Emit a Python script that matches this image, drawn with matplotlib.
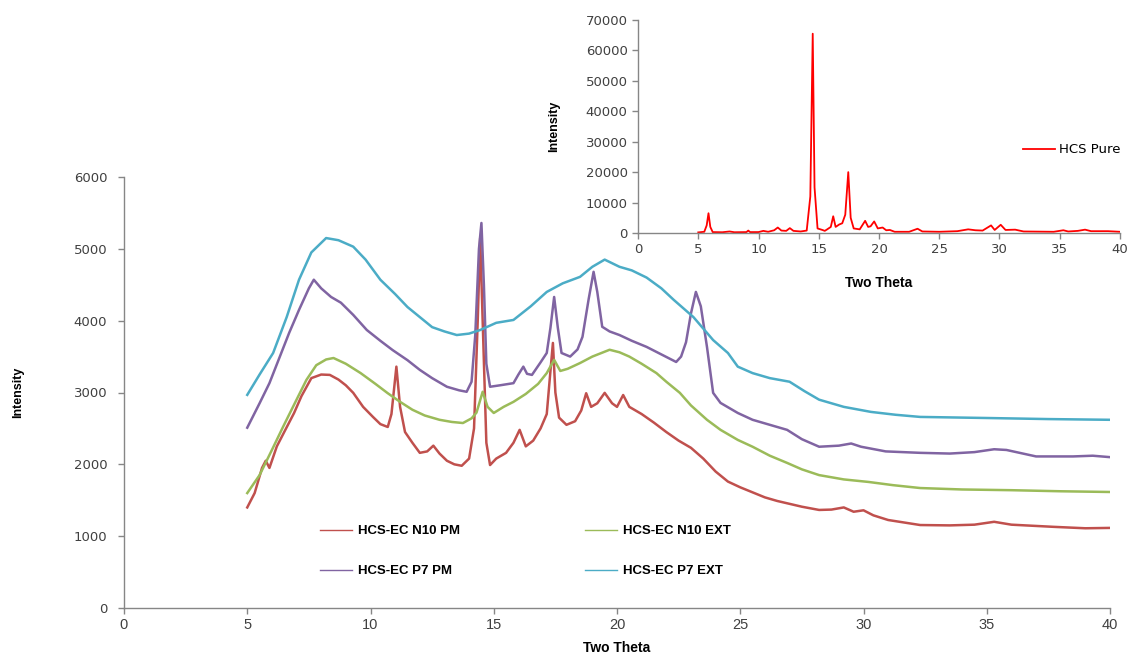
import matplotlib
matplotlib.use("Agg")
import matplotlib.pyplot as plt

# ---------------- data ----------------
two_theta_ticks = [0, 5, 10, 15, 20, 25, 30, 35, 40]
intensity_ticks = [0, 1000, 2000, 3000, 4000, 5000, 6000]
inset_intensity_ticks = [0, 10000, 20000, 30000, 40000, 50000, 60000, 70000]

n10_pm_x = [5.0, 5.3, 5.6, 5.75, 5.9, 6.2, 6.5, 6.9, 7.2, 7.6, 8.0, 8.35, 8.7, 9.0, 9.3,
            9.7, 10.1, 10.4, 10.7, 10.85, 11.05, 11.2, 11.4, 11.7, 12.0, 12.3, 12.55,
            12.8, 13.1, 13.4, 13.7, 14.0, 14.2, 14.35, 14.45, 14.55, 14.7, 14.85, 15.1,
            15.5, 15.8, 16.05, 16.3, 16.6, 16.9, 17.15, 17.3, 17.4, 17.5, 17.65, 17.95,
            18.3, 18.55, 18.75, 18.95, 19.2, 19.5, 19.8, 20.0, 20.25, 20.5, 21.0, 21.5,
            22.0, 22.5, 23.0, 23.5, 24.0, 24.5, 25.0, 25.5, 26.0, 26.5, 27.0, 27.5,
            28.2, 28.7, 29.2, 29.6, 30.0, 30.4, 31.0, 32.3, 33.5, 34.5, 35.3, 36.0,
            37.7, 39.0, 40.0]
n10_pm_y = [1400, 1600, 1950, 2050, 1950, 2250, 2450, 2715, 2950, 3200, 3250, 3245, 3180,
            3100, 2995, 2800, 2660, 2560, 2520, 2700, 3360, 2800, 2450, 2300, 2160, 2180,
            2260, 2150, 2050, 2000, 1980, 2080, 2500, 4000, 5150, 4000, 2300, 1990, 2080,
            2160, 2300, 2480, 2250, 2330, 2500, 2700, 3300, 3690, 3000, 2650, 2550, 2600,
            2750, 2990, 2800, 2850, 2995, 2850, 2800, 2965, 2800, 2700, 2580, 2450, 2330,
            2230, 2080, 1900, 1760, 1680, 1610, 1540, 1490, 1450, 1410, 1365, 1370, 1400,
            1340, 1360, 1290, 1225, 1155, 1150, 1160, 1200, 1160, 1130, 1110, 1115]

n10_ext_x = [5.0, 5.5, 6.0, 6.45, 7.0, 7.4, 7.8, 8.2, 8.5, 9.0, 9.6, 10.2, 10.7, 11.2,
             11.7, 12.2, 12.8, 13.3, 13.75, 14.1, 14.3, 14.55, 14.75, 15.0, 15.4, 15.8,
             16.3, 16.8, 17.15, 17.45, 17.7, 18.0, 18.5, 19.0, 19.7, 20.1, 20.5, 21.0,
             21.6, 22.0, 22.55, 23.0, 23.65, 24.2, 24.9, 25.5, 26.2, 26.9, 27.5, 28.2,
             29.2, 30.2, 31.2, 32.3, 34.0, 36.0, 38.0, 40.0]
n10_ext_y = [1600, 1850, 2200, 2520, 2900, 3175, 3380, 3460, 3480, 3400, 3270, 3120, 2990,
             2870, 2760, 2680, 2620, 2590, 2575, 2640, 2720, 3010, 2800, 2715, 2800, 2870,
             2980, 3120, 3270, 3455, 3300, 3330, 3410, 3500, 3595, 3560, 3500, 3400, 3270,
             3150, 2995, 2820, 2620, 2480, 2340, 2245, 2120, 2020, 1930, 1850, 1790, 1755,
             1710, 1670, 1650, 1640, 1625, 1615]

p7_pm_x = [5.0, 5.5, 5.9, 6.3, 6.7, 7.1, 7.5, 7.7, 8.0, 8.4, 8.8, 9.3, 9.85, 10.4, 10.9,
           11.5, 12.0, 12.5, 13.1, 13.6, 13.9, 14.1, 14.25, 14.4, 14.5, 14.6, 14.7, 14.85,
           15.25, 15.8, 16.0, 16.2, 16.35, 16.55, 16.9, 17.15, 17.3, 17.45, 17.6, 17.75,
           18.1, 18.4, 18.6, 18.85, 19.05, 19.2, 19.4, 19.7, 20.1, 20.6, 21.2, 21.8, 22.4,
           22.6, 22.8, 23.0, 23.2, 23.4, 23.65, 23.9, 24.2, 24.9, 25.5, 26.2, 26.9, 27.5,
           28.2, 29.0, 29.5, 29.9, 30.9, 32.3, 33.5, 34.5, 35.3, 35.8, 37.0, 38.5, 39.3,
           40.0]
p7_pm_y = [2510, 2850, 3130, 3480, 3830, 4150, 4450, 4570, 4450, 4330, 4250, 4080, 3870,
           3720, 3590, 3450, 3315, 3200, 3080, 3030, 3010, 3150, 3800, 5000, 5360, 4500,
           3400, 3080, 3100, 3130, 3250, 3360, 3260, 3245, 3420, 3550, 3900, 4330, 3900,
           3550, 3500, 3600, 3775, 4300, 4680, 4400, 3915, 3850, 3800, 3720, 3635, 3530,
           3425, 3500, 3700, 4100, 4400, 4200, 3635, 2995, 2855, 2715, 2620, 2550, 2480,
           2350, 2245, 2260, 2290, 2245, 2180, 2160, 2150, 2170, 2210, 2200, 2110, 2110,
           2120, 2100]

p7_ext_x = [5.0, 5.5, 6.05, 6.6, 7.1, 7.6, 8.2, 8.7, 9.3, 9.8, 10.4, 11.0, 11.5, 12.0,
            12.5, 13.0, 13.5, 14.0, 14.45, 15.1, 15.8, 16.5, 17.15, 17.8, 18.5, 19.0,
            19.5, 20.1, 20.6, 21.2, 21.8, 22.3, 23.1, 23.9, 24.5, 24.9, 25.5, 26.2, 27.0,
            27.6, 28.2, 29.2, 30.3, 31.3, 32.3, 35.0, 37.5, 40.0]
p7_ext_y = [2967, 3250, 3550, 4050, 4570, 4950, 5150, 5120, 5030, 4850, 4570, 4370, 4190,
            4050, 3910, 3850, 3800, 3820, 3870, 3970, 4010, 4200, 4400, 4520, 4610, 4750,
            4850, 4750, 4700, 4600, 4450, 4290, 4050, 3730, 3550, 3360, 3270, 3200, 3150,
            3020, 2900, 2800, 2730, 2690, 2660, 2645, 2630, 2620]

hcs_pure_x = [5.0, 5.5, 5.7, 5.85, 6.0, 6.2, 7.0, 7.6, 8.0, 9.0, 9.15, 9.3, 10.0, 10.4,
              10.8, 11.3, 11.6, 11.9, 12.3, 12.6, 12.9, 13.5, 14.0, 14.3, 14.5, 14.65,
              14.9, 15.3, 15.5, 15.7, 16.0, 16.2, 16.4, 16.7, 16.95, 17.2, 17.45, 17.65,
              17.9, 18.4, 18.85, 19.1, 19.3, 19.6, 19.9, 20.3, 20.6, 20.9, 21.3, 22.5,
              23.2, 23.6, 25.0, 26.5, 27.4, 28.0, 28.6, 29.3, 29.6, 30.1, 30.5, 31.3,
              32.0, 34.5, 35.3, 35.7, 36.5, 37.1, 37.6, 39.0, 40.0]
hcs_pure_y = [200, 400, 2500, 6500, 2000, 300, 250, 500, 250, 300, 800, 300, 300, 700,
              400, 900, 1800, 800, 700, 1600, 700, 500, 800, 12000, 65500, 15000, 1500,
              1000, 700, 1200, 2000, 5500, 2000, 2800, 3200, 6000, 20000, 5000, 1500,
              1200, 4000, 2000, 2200, 3800, 1500, 1800, 900, 1000, 400, 400, 1400, 500,
              400, 600, 1200, 900, 800, 2500, 1000, 2700, 1000, 1100, 500, 400, 900, 500,
              700, 1100, 600, 600, 400]

series = [
    ("HCS-EC N10 PM", n10_pm_x, n10_pm_y, "#C0504D"),
    ("HCS-EC N10 EXT", n10_ext_x, n10_ext_y, "#9BBB59"),
    ("HCS-EC P7 PM", p7_pm_x, p7_pm_y, "#8064A2"),
    ("HCS-EC P7 EXT", p7_ext_x, p7_ext_y, "#4BACC6"),
]

# ---------------- styling ----------------
AXIS_GRAY = "#868686"
TICK_TEXT = "#404040"
SANS = ["Liberation Sans", "DejaVu Sans"]

fig = plt.figure(figsize=(11.28, 6.55), dpi=100)

# main chart
ax = fig.add_axes([124 / 1128, 1 - 608 / 655, (1110 - 124) / 1128, (608 - 177) / 655])
lines = {}
for name, xs, ys, col in series:
    (ln,) = ax.plot(xs, ys, color=col, lw=1.8, solid_joinstyle="round")
    lines[name] = ln

ax.set_xlim(0, 40)
ax.set_ylim(0, 6000)
ax.set_xticks(two_theta_ticks)
ax.set_yticks(intensity_ticks)
for s in ("top", "right"):
    ax.spines[s].set_visible(False)
for s in ("left", "bottom"):
    ax.spines[s].set_color(AXIS_GRAY)
    ax.spines[s].set_linewidth(1.0)
ax.tick_params(axis="both", direction="out", color=AXIS_GRAY, length=4, width=1,
               labelcolor=TICK_TEXT)
ax.tick_params(axis="y", pad=8)
for lab in ax.get_yticklabels():
    lab.set_fontfamily("DejaVu Sans")
    lab.set_fontsize(9.5)
for lab in ax.get_xticklabels():
    lab.set_fontfamily(SANS)
    lab.set_fontsize(10.5)
ax.set_xlabel("Two Theta", family=SANS, fontweight="bold", fontsize=10, labelpad=6)
ax.set_ylabel("Intensity", family=SANS, fontweight="bold", fontsize=9, labelpad=36)

legend_font = {"family": SANS, "weight": "bold", "size": 9.5}
leg_kw = dict(loc="upper left", frameon=False, handlelength=2.4, handletextpad=0.45,
              labelspacing=2.1, borderpad=0, borderaxespad=0, prop=legend_font,
              bbox_transform=fig.transFigure)
leg1 = ax.legend([lines["HCS-EC N10 PM"], lines["HCS-EC P7 PM"]],
                 ["HCS-EC N10 PM", "HCS-EC P7 PM"],
                 bbox_to_anchor=(320 / 1128, 1 - 525 / 655), **leg_kw)
for h in leg1.get_lines():
    h.set_linewidth(1.0)
ax.add_artist(leg1)
leg2 = ax.legend([lines["HCS-EC N10 EXT"], lines["HCS-EC P7 EXT"]],
                 ["HCS-EC N10 EXT", "HCS-EC P7 EXT"],
                 bbox_to_anchor=(585 / 1128, 1 - 525 / 655), **leg_kw)
for h in leg2.get_lines():
    h.set_linewidth(1.0)

# inset: pure HCS pattern
ins = fig.add_axes([638 / 1128, 1 - 233 / 655, (1120 - 638) / 1128, (233 - 20) / 655])
(pure_line,) = ins.plot(hcs_pure_x, hcs_pure_y, color="#FF0000", lw=1.3)
ins.set_xlim(0, 40)
ins.set_ylim(0, 70000)
ins.set_xticks(two_theta_ticks)
ins.set_yticks(inset_intensity_ticks)
ins.patch.set_alpha(0)
for s in ("top", "right"):
    ins.spines[s].set_visible(False)
for s in ("left", "bottom"):
    ins.spines[s].set_color(AXIS_GRAY)
    ins.spines[s].set_linewidth(1.0)
ins.tick_params(axis="both", direction="out", color=AXIS_GRAY, length=4, width=1,
                labelcolor=TICK_TEXT)
for lab in ins.get_xticklabels() + ins.get_yticklabels():
    lab.set_fontfamily("DejaVu Sans")
    lab.set_fontsize(9.5)
ins.set_xlabel("Two Theta", family=SANS, fontweight="bold", fontsize=10, labelpad=14)
ins.set_ylabel("Intensity", family=SANS, fontweight="bold", fontsize=9, labelpad=18)
ins.legend([pure_line], ["HCS Pure"], loc="center left", frameon=False,
           bbox_to_anchor=(1023 / 1128, 1 - 150 / 655), bbox_transform=fig.transFigure,
           handlelength=2.4, handletextpad=0.3, borderpad=0, borderaxespad=0,
           prop={"family": "DejaVu Sans", "size": 9.5})

fig.savefig("out.png", dpi=100, facecolor="white")
